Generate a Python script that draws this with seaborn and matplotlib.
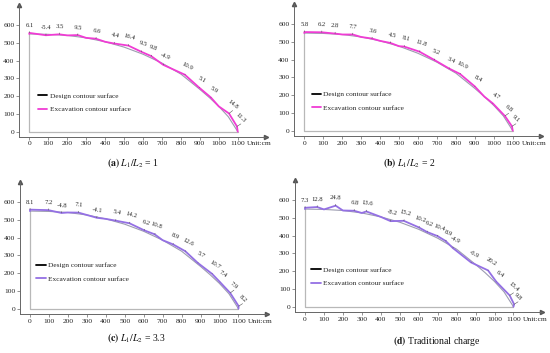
import numpy as np
import pandas as pd
import seaborn as sns
import matplotlib.pyplot as plt
from matplotlib.lines import Line2D

# design contour (cm), same for every case
design_x = [0, 100, 200, 300, 400, 500, 600, 700, 800, 900, 950, 1000, 1050, 1100]
design_y = [550, 548, 542, 528, 506, 476, 436, 386, 324, 238, 192, 142, 84, 0]

# measuring points and over/under excavation values (cm)
a_x = [0, 88, 158, 254, 350, 446, 517, 587, 639, 709, 814, 893, 954, 1042, 1086]
a_dev = [6.1, -5.4, 3.5, 9.5, 6.6, 4.4, 16.4, 9.5, 9.8, -4.9, 10.9, 5.1, 5.9, 14.8, 11.3]

b_x = [0, 92, 162, 254, 356, 453, 524, 603, 683, 762, 815, 894, 991, 1053, 1088]
b_dev = [5.8, 6.2, 2.8, 7.7, 3.6, 4.5, 8.1, 11.8, 5.2, 3.4, 10.9, 8.4, 4.7, 6.8, 9.1]

c_x = [0, 97, 167, 255, 353, 450, 520, 600, 653, 750, 812, 882, 953, 997, 1050, 1094]
c_dev = [8.1, 7.2, -4.8, 7.1, -4.1, 5.4, 14.2, 6.2, 10.8, 8.9, 12.6, 5.7, 10.7, 7.4, 7.9, 8.2]

d_x = [0, 64, 160, 258, 321, 454, 516, 597, 641, 694, 738, 783, 881, 952, 1004, 1067, 1095]
d_dev = [7.3, 12.8, 24.8, 6.8, 13.6, -8.2, 15.2, 10.2, 6.2, 10.4, 8.9, -4.9, -6.9, 20.2, 6.4, 15.4, 9.8]

captions = [r"$\mathbf{(a)}$ $L_1/L_2$ = 1", r"$\mathbf{(b)}$ $L_1/L_2$ = 2",
            r"$\mathbf{(c)}$ $L_1/L_2$ = 3.3", r"$\mathbf{(d)}$ Traditional charge"]
legend_labels = ["Design contour surface", "Excavation contour surface"]
x_ticks = list(range(0, 1200, 100))
y_ticks = list(range(0, 700, 100))

sns.set_theme(style="ticks")
plt.rcParams["font.family"] = ["Liberation Serif", "DejaVu Serif"]
plt.rcParams["mathtext.fontset"] = "stix"

W, H = 550, 353
fig = plt.figure(figsize=(W / 100, H / 100), dpi=100)

sx, sy = 18.95, 17.75          # px per 100 cm
xlim, ylim = (-52, 1250), (-28, 715)
ratio = sy / sx

# panel origin (px) of data point (0,0), legend anchor, caption pos, line colour
panels = [
    (a_x, a_dev, (29.3, 131.6), (45, 165), (133, 163), "#f03cd4"),
    (b_x, b_dev, (304.3, 130.7), (38, 168), (409, 163), "#f03cd4"),
    (c_x, c_dev, (30.0, 308.7), (32, 207), (136, 338), "#9470e4"),
    (d_x, d_dev, (305.0, 306.7), (32, 170), (437, 341), "#9470e4"),
]

dx_arr = np.array(design_x, float)
dy_arr = np.array(design_y, float)
seg = np.diff(dy_arr) / np.diff(dx_arr)
mids = (dx_arr[:-1] + dx_arr[1:]) / 2


def slope(x):
    return np.interp(x, mids, seg)


for k, (px, dev, org, leg, cap, col) in enumerate(panels):
    x0, y0 = org
    left = x0 + xlim[0] * sx / 100
    right = x0 + xlim[1] * sx / 100
    bot = y0 - ylim[0] * sy / 100
    top = y0 - ylim[1] * sy / 100
    ax = fig.add_axes([left / W, (H - bot) / H, (right - left) / W, (bot - top) / H])
    ax.set_xlim(*xlim)
    ax.set_ylim(*ylim)

    # excavation points offset along the normal of design surface
    px = np.array(px, float)
    dev = np.array(dev, float)
    s = slope(px)
    nrm = np.sqrt(1 + s ** 2)
    base_y = np.interp(px, dx_arr, dy_arr)
    ex_x = px + dev * (-s) / nrm
    ex_y = base_y + dev / nrm

    keep = [i for i, xv in enumerate(design_x)
            if i in (0, len(design_x) - 1) or np.min(np.abs(px - xv)) > 20]
    rows = [(design_x[i], design_x[i], design_y[i]) for i in keep]
    rows += list(zip(px, ex_x, ex_y))
    exc = pd.DataFrame(rows, columns=["base", "x", "y"]).sort_values("base")
    des = pd.DataFrame({"x": design_x, "y": design_y})

    ax.plot([0, 0, 1100], [550, 0, 0], color="#b8b8b8", lw=0.9)
    sns.lineplot(data=des, x="x", y="y", sort=False, ax=ax, color="#9c9cb0", lw=0.8)
    sns.lineplot(data=exc, x="x", y="y", sort=False, ax=ax, color=col, lw=1.3)

    for xv, yv, sv, dv in zip(ex_x, ex_y, s, dev):
        sp = sv * ratio
        n = np.array([-sp, 1.0]) / np.sqrt(1 + sp ** 2)
        ang = np.degrees(np.arctan(sp)) * 0.75
        ax.annotate(f"{dv:g}", xy=(xv, yv), xytext=(n[0] * 3.4, n[1] * 3.4),
                    textcoords="offset points", ha="center", va="bottom",
                    rotation=ang, fontsize=4.8, color="#222222",
                    arrowprops=dict(arrowstyle="-", color="#555555", lw=0.4,
                                    shrinkA=0, shrinkB=0, relpos=(0.5, 0)))

    handles = [Line2D([], [], color="black", lw=1.3), Line2D([], [], color=col, lw=1.3)]
    ax.legend(handles, legend_labels, loc="center left", bbox_to_anchor=leg,
              bbox_transform=ax.transData, frameon=False, fontsize=5.3,
              handlelength=1.3, handletextpad=0.3, labelspacing=1.0,
              borderpad=0, borderaxespad=0)

    ax.set_xticks(x_ticks)
    ax.set_yticks(y_ticks)
    ax.set_xlabel("")
    ax.set_ylabel("")
    ax.tick_params(length=2, width=0.5, pad=1.5, labelsize=5.4,
                   colors="#666666", labelcolor="#222222")
    sns.despine(ax=ax)
    for sp_name in ("left", "bottom"):
        ax.spines[sp_name].set_color("#666666")
        ax.spines[sp_name].set_linewidth(0.7)
    ax.plot(1, 0, ">", transform=ax.transAxes, clip_on=False, ms=3, color="#555555")
    ax.plot(0, 1, "^", transform=ax.transAxes, clip_on=False, ms=3, color="#555555")
    ax.annotate("Unit:cm", xy=(1148, 0), xycoords=("data", "axes fraction"),
                xytext=(0, -3.5), textcoords="offset points", ha="left", va="top",
                fontsize=5.4, color="#222222")

    fig.text(cap[0] / W, 1 - cap[1] / H, captions[k], ha="center", va="center",
             fontsize=7, color="#111111")

fig.savefig("out.png", dpi=100)
